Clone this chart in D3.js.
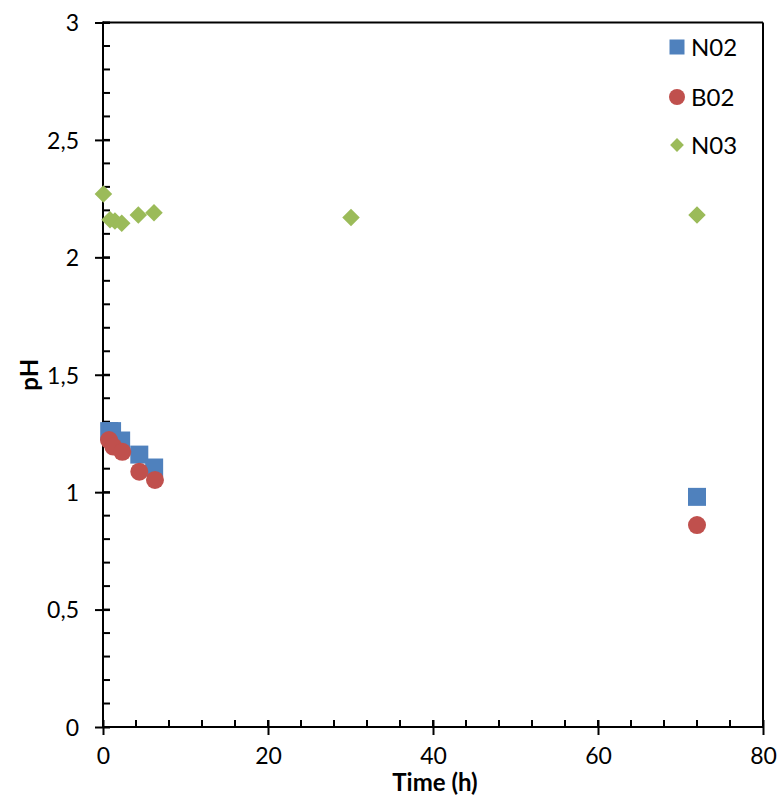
<!DOCTYPE html>
<html><head><meta charset="utf-8">
<script src="https://cdn.jsdelivr.net/npm/d3@7"></script>
<style>body{margin:0;background:#fff}svg{display:block}text{font-family:Lato,"Open Sans",sans-serif}</style>
</head><body>
<svg id="c" width="778" height="798"></svg>
<script>
const n02Time = [0.75, 1.1, 2.2, 4.4, 6.2, 72];
const n02PH   = [1.26, 1.26, 1.22, 1.16, 1.105, 0.98];
const b02Time = [0.73, 1.25, 2.34, 4.4, 6.3, 72];
const b02PH   = [1.222, 1.194, 1.172, 1.087, 1.052, 0.86];
const n03Time = [0.05, 0.85, 1.45, 2.27, 4.28, 6.18, 30.06, 72];
const n03PH   = [2.27, 2.16, 2.155, 2.145, 2.18, 2.19, 2.17, 2.18];
const xTicks = [0, 20, 40, 60, 80];
const yTicks = [0, 0.5, 1, 1.5, 2, 2.5, 3];
const seriesNames = ["N02", "B02", "N03"];
const colors = ["#4F81BD", "#C0504D", "#9BBB59"];

const svg = d3.select("#c");
const L = 103, R = 763, T = 22.5, B = 727;
const x = d3.scaleLinear().domain([0, 80]).range([L, R]);
const y = d3.scaleLinear().domain([0, 3]).range([B, T]);
const fmt = d => String(d).replace(".", ",");

// frame top & right
svg.append("line").attr("x1", L).attr("x2", R).attr("y1", T).attr("y2", T).attr("stroke", "#000").attr("stroke-width", 2);
svg.append("line").attr("x1", R).attr("x2", R).attr("y1", T).attr("y2", B).attr("stroke", "#000").attr("stroke-width", 2);

// minor ticks
const g = svg.append("g");
d3.range(0, 80.001, 4).forEach(v => {
  g.append("line").attr("x1", x(v)).attr("x2", x(v)).attr("y1", B).attr("y2", B - 7).attr("stroke", "#000").attr("stroke-width", 2);
});
d3.range(0, 30.001, 1).map(v => v / 10).forEach(v => {
  g.append("line").attr("x1", L).attr("x2", L + 7).attr("y1", y(v)).attr("y2", y(v)).attr("stroke", "#000").attr("stroke-width", 2);
});

// axes
const xAxis = svg.append("g").attr("transform", `translate(0,${B})`)
  .call(d3.axisBottom(x).tickValues(xTicks).tickSize(8).tickPadding(13).tickFormat(d3.format("d")));
xAxis.select(".domain").attr("stroke-width", 2).attr("d", `M${L-1},0H${R+1}`);
xAxis.selectAll(".tick line").attr("stroke-width", 2).attr("y1", -7).attr("y2", 8);
xAxis.selectAll("text").attr("font-size", 23).attr("fill", "#000").attr("font-family", "Lato");

const yAxis = svg.append("g").attr("transform", `translate(${L},0)`)
  .call(d3.axisLeft(y).tickValues(yTicks).tickSize(8).tickPadding(16).tickFormat(fmt));
yAxis.select(".domain").attr("stroke-width", 2).attr("d", `M0,${T-1}V${B+1}`);
yAxis.selectAll(".tick line").attr("stroke-width", 2).attr("x1", 7).attr("x2", -8);
yAxis.selectAll("text").attr("font-size", 23).attr("fill", "#000").attr("font-family", "Lato").attr("dy", "0.36em");

// axis titles
svg.append("text").attr("x", 435).attr("y", 791).attr("text-anchor", "middle")
  .attr("font-size", 24).attr("font-weight", "bold").text("Time (h)");
svg.append("text").attr("transform", `translate(38,${(T + B) / 2}) rotate(-90)`).attr("text-anchor", "middle")
  .attr("font-size", 24).attr("font-weight", "bold").text("pH");

// markers
const sq = d3.symbol().type(d3.symbolSquare).size(18 * 18);
const ci = d3.symbol().type(d3.symbolCircle).size(Math.PI * 9 * 9);
const di = d3.symbol().type(d3.symbolDiamond2).size(14 * 14);

const pts = (ts, vs) => ts.map((t, i) => [t, vs[i]]);
svg.append("g").selectAll("path").data(pts(n02Time, n02PH)).join("path")
  .attr("d", sq).attr("fill", colors[0]).attr("transform", d => `translate(${x(d[0])},${y(d[1])})`);
svg.append("g").selectAll("path").data(pts(b02Time, b02PH)).join("path")
  .attr("d", ci).attr("fill", colors[1]).attr("transform", d => `translate(${x(d[0])},${y(d[1])})`);
svg.append("g").selectAll("path").data(pts(n03Time, n03PH)).join("path")
  .attr("d", di).attr("fill", colors[2]).attr("transform", d => `translate(${x(d[0])},${y(d[1])})`);

// legend
const legY = [47, 97, 145];
const lsym = [d3.symbol().type(d3.symbolSquare).size(15 * 15), d3.symbol().type(d3.symbolCircle).size(Math.PI * 8 * 8), d3.symbol().type(d3.symbolDiamond2).size(11 * 11)];
seriesNames.forEach((n, i) => {
  svg.append("path").attr("d", lsym[i]).attr("fill", colors[i]).attr("transform", `translate(677,${legY[i]})`);
  svg.append("text").attr("x", 691).attr("y", legY[i]).attr("dy", "0.36em").attr("font-size", 24).text(n);
});
</script>
</body></html>
